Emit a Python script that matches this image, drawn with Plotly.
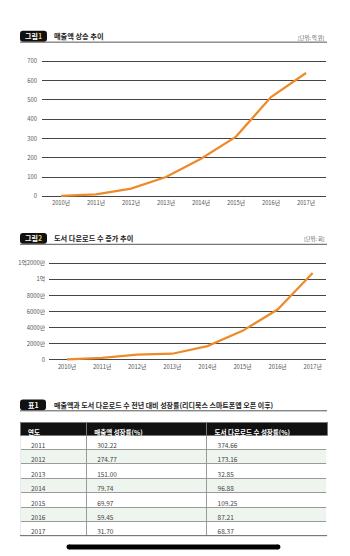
import plotly.graph_objects as go

# ---- data ----
years = ["2010년", "2011년", "2012년", "2013년", "2014년", "2015년", "2016년", "2017년"]
sales = [2, 10, 40, 100, 195, 310, 515, 640]                 # 억 원
downloads = [50, 230, 630, 750, 1700, 3600, 6250, 10800]     # 만 회

y1_ticks = [0, 100, 200, 300, 400, 500, 600, 700]
y2_ticks = [0, 2000, 4000, 6000, 8000, 10000, 12000]
y2_labels = ["0", "2000만", "4000만", "6000만", "8000만", "1억", "1억2000만"]

table_years = ["2011", "2012", "2013", "2014", "2015", "2016", "2017"]
sales_growth = ["302.22", "274.77", "151.00", "79.74", "69.97", "59.45", "31.70"]
download_growth = ["374.66", "173.16", "32.85", "96.88", "109.25", "87.21", "68.37"]
table_header = ["연도", "매출액 성장률(%)", "도서 다운로드 수 성장률(%)"]

W, H = 350, 556
FONT = "Noto Sans CJK KR"
ORANGE = "#ee8a2a"
GRID = "#454545"


def px(x):
    return x / W


def py(y):
    return 1 - y / H


fig = go.Figure()

fig.add_trace(go.Scatter(x=years, y=sales, mode="lines",
                         line=dict(color=ORANGE, width=2.2),
                         xaxis="x", yaxis="y", hoverinfo="skip"))
fig.add_trace(go.Scatter(x=years, y=downloads, mode="lines",
                         line=dict(color=ORANGE, width=2.2),
                         xaxis="x2", yaxis="y2", hoverinfo="skip"))

# growth table
row_fill = ["#ffffff" if i % 2 == 0 else "#eef4ee" for i in range(len(table_years))]
fig.add_trace(go.Table(
    domain=dict(x=[px(20), px(327)], y=[py(538), py(423)]),
    columnwidth=[66, 120, 120],
    header=dict(values=table_header, align="left", height=13,
                fill=dict(color="#111111"),
                line=dict(color="#777777", width=1),
                font=dict(family=FONT, size=6.5, color="white", weight="bold")),
    cells=dict(values=[table_years, sales_growth, download_growth],
               align="left", height=14.4, prefix="\u00a0\u00a0",
               fill=dict(color=[row_fill] * 3),
               line=dict(color="#9a9a9a", width=1),
               font=dict(family=FONT, size=6.5, color="#444444")),
))

tick_font = dict(family=FONT, size=5.8, color="#555555")

fig.update_layout(
    width=W, height=H, autosize=False,
    margin=dict(l=0, r=0, t=0, b=0),
    paper_bgcolor="white", plot_bgcolor="white",
    showlegend=False,
    xaxis=dict(domain=[px(42), px(326)], range=[-0.543, 7.571],
               showgrid=False, zeroline=False, showline=False, ticks="",
               tickfont=tick_font, anchor="y", fixedrange=True),
    yaxis=dict(domain=[py(197), py(57)], range=[-10, 710],
               tickvals=y1_ticks, showgrid=True, gridcolor=GRID, gridwidth=1.4,
               zeroline=False, showline=False, ticks="", ticklabelstandoff=4,
               tickfont=tick_font, anchor="x", fixedrange=True),
    xaxis2=dict(domain=[px(49), px(326)], range=[-0.513, 7.38],
                showgrid=False, zeroline=False, showline=False, ticks="",
                tickfont=tick_font, anchor="y2", fixedrange=True),
    yaxis2=dict(domain=[py(362), py(260.7)], range=[-250, 12250],
                tickvals=y2_ticks, ticktext=y2_labels,
                showgrid=True, gridcolor=GRID, gridwidth=1.4,
                zeroline=False, showline=False, ticks="", ticklabelstandoff=3,
                tickfont=tick_font, anchor="x2", fixedrange=True),
)


def badge(x0, x1, y0, y1, r=3):
    X0, X1 = px(x0), px(x1)
    rx, ry = r / W, r / H
    Y0, Y1 = py(y0), py(y1)
    path = (f"M {X0 + rx},{Y0} L {X1 - rx},{Y0} Q {X1},{Y0} {X1},{Y0 - ry} "
            f"L {X1},{Y1 + ry} Q {X1},{Y1} {X1 - rx},{Y1} L {X0 + rx},{Y1} "
            f"Q {X0},{Y1} {X0},{Y1 + ry} L {X0},{Y0 - ry} Q {X0},{Y0} {X0 + rx},{Y0} Z")
    return dict(type="path", path=path, xref="paper", yref="paper",
                fillcolor="#111111", line=dict(width=0))


def rule(y, color="#555555", width=1):
    return dict(type="line", xref="paper", yref="paper",
                x0=px(20), x1=px(327), y0=py(y), y1=py(y),
                line=dict(color=color, width=width))


shapes = [
    badge(20, 47, 28, 39), rule(39.5),
    badge(20, 47, 232, 243), rule(243.5),
    badge(20, 46, 400, 411), rule(411.5),
]

# open table sides: mask the outer vertical cell borders
for x0, x1 in ((19, 20.8), (326.2, 328)):
    shapes.append(dict(type="rect", xref="paper", yref="paper", layer="above",
                       x0=px(x0), x1=px(x1), y0=py(537.3), y1=py(436.6),
                       fillcolor="white", line=dict(width=0)))
# darker closing rule under the last row
shapes.append(dict(type="line", xref="paper", yref="paper", layer="above",
                   x0=px(20), x1=px(327), y0=py(537.5), y1=py(537.5),
                   line=dict(color="#666666", width=1)))

# home indicator bar
shapes.append(dict(type="rect", xref="paper", yref="paper",
                   x0=px(69), x1=px(278), y0=py(551.5), y1=py(546.5),
                   fillcolor="#000000", line=dict(width=0)))
for cx in (69, 278):
    shapes.append(dict(type="circle", xref="paper", yref="paper",
                       x0=px(cx - 2.5), x1=px(cx + 2.5), y0=py(551.5), y1=py(546.5),
                       fillcolor="#000000", line=dict(width=0)))

fig.update_layout(shapes=shapes)

title_font = dict(family=FONT, size=7.2, color="#222222", weight="bold")
badge_font = dict(family=FONT, size=7, color="white", weight="bold")
unit_font = dict(family=FONT, size=5.2, color="#555555")


def note(x, y, text, font, anchor="left"):
    fig.add_annotation(x=px(x), y=py(y), xref="paper", yref="paper",
                       text=text, showarrow=False, xanchor=anchor,
                       yanchor="middle", font=font)


note(33.5, 33.5, "그림<span style='color:#f3c64b'>1</span>", badge_font, "center")
note(52, 33.5, "매출액 상승 추이", title_font)
note(327, 35.5, "[단위: 억 원]", unit_font, "right")

note(33.5, 237.5, "그림<span style='color:#f3c64b'>2</span>", badge_font, "center")
note(52, 237.5, "도서 다운로드 수 증가 추이", title_font)
note(327, 238.5, "[단위: 회]", unit_font, "right")

note(33, 405.5, "표1", badge_font, "center")
note(52, 405.5, "매출액과 도서 다운로드 수 전년 대비 성장률(리디북스 스마트폰앱 오픈 이후)",
     dict(family=FONT, size=7, color="#222222", weight="bold"))

fig.write_html("out.html")
